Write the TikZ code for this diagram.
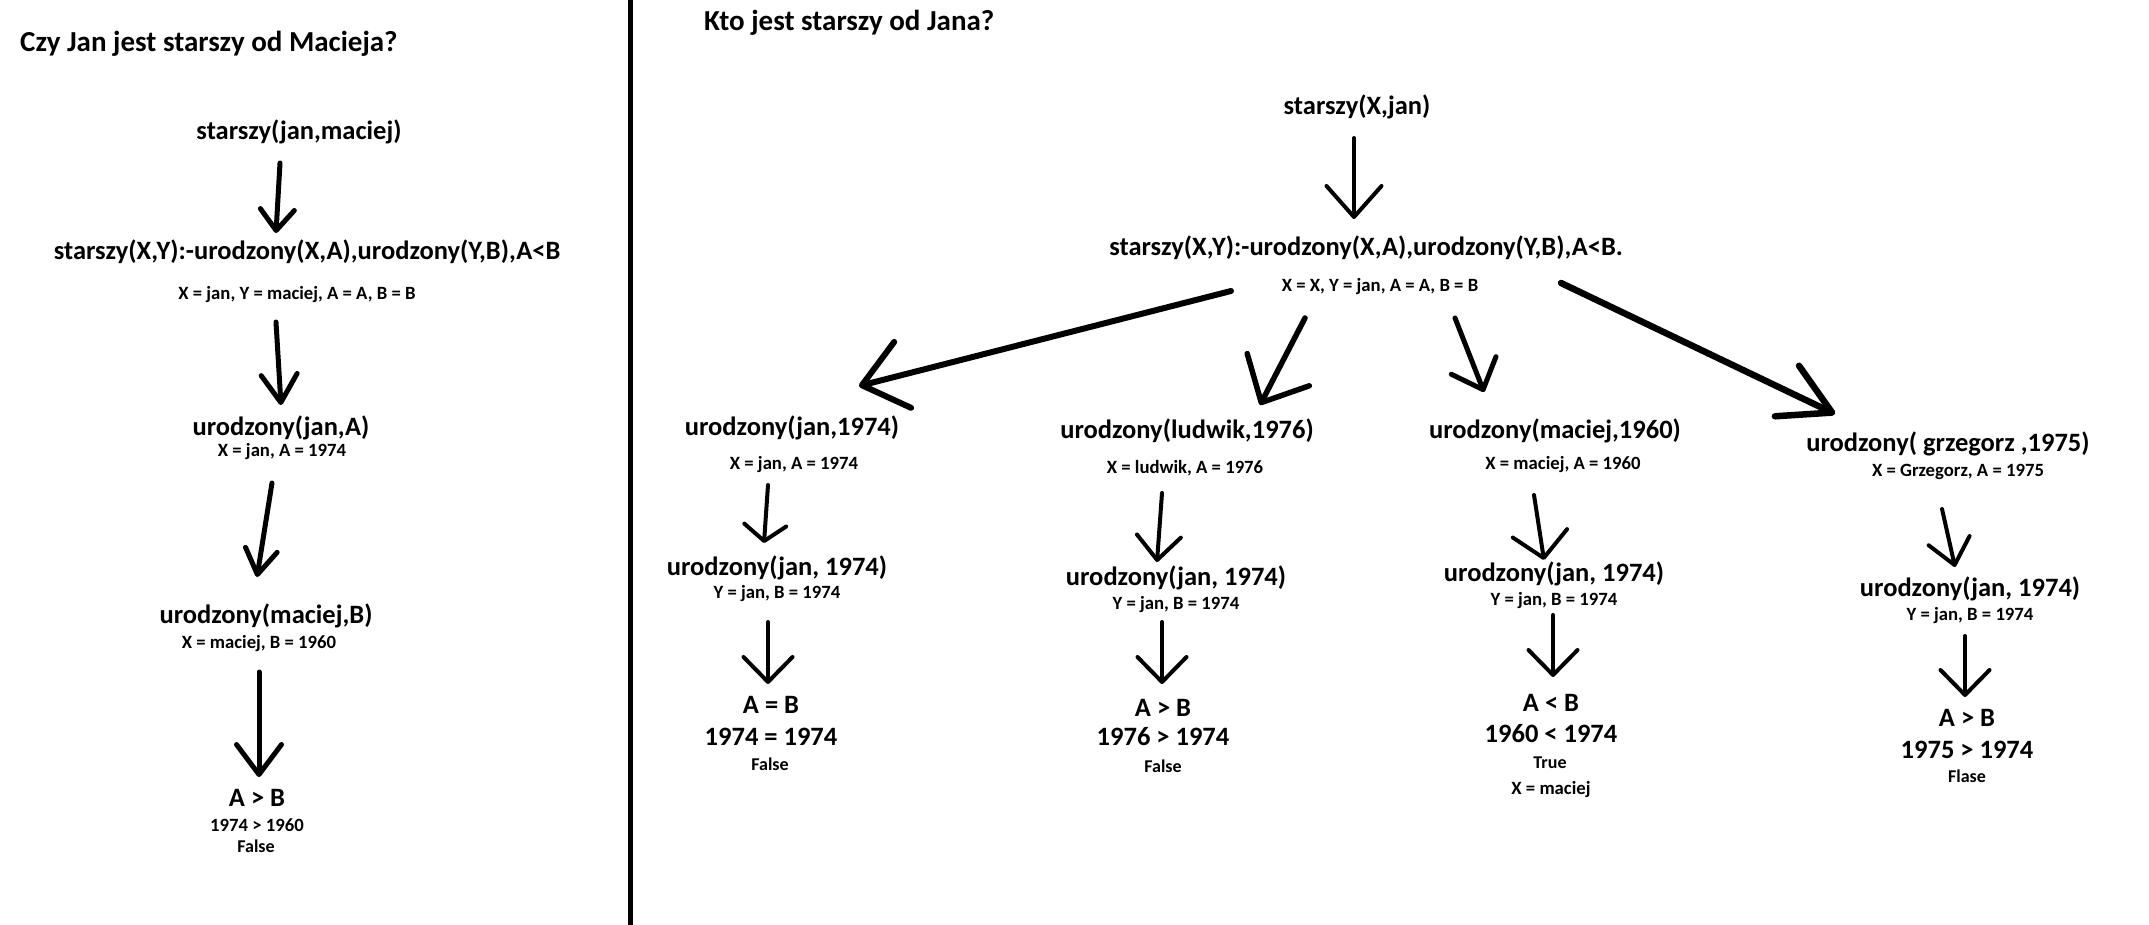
\documentclass[tikz,border=0pt]{standalone}
\usepackage{fontspec}
\setmainfont{Carlito}
\usetikzlibrary{arrows.meta}
\newcommand\fTitle{\fontsize{29}{34}\selectfont\bfseries}
\newcommand\fMain{\fontsize{26.5}{31}\selectfont\bfseries}
\newcommand\fSub{\fontsize{18.7}{22}\selectfont\bfseries}
\newcommand\fRes{\fontsize{18}{21}\selectfont\bfseries}
\tikzset{
  ttl/.style={anchor=base west, inner sep=0pt, font=\fTitle},
  mtxt/.style={anchor=base, inner sep=0pt, font=\fMain},
  stxt/.style={anchor=base, inner sep=0pt, font=\fSub},
  rtxt/.style={anchor=base, inner sep=0pt, font=\fRes},
  ln/.style={line width=#1, line cap=round, line join=round},
  hd/.style 2 args={-{Straight Barb[length=#1pt,width=#2pt,round]}}
}
\begin{document}
\begin{tikzpicture}[x=1pt,y=-1pt]
\useasboundingbox[fill=white] (0,0) rectangle (2149,925);
% divider
\draw[line width=5pt] (630.5,0) -- (630.5,925);

% ---------- left panel ----------
\node[ttl] (lt) at (20,52) {Czy Jan jest starszy od Macieja?};
\node[mtxt] (l1) at (299,140) {starszy(jan,maciej)};
\node[mtxt] (l2) at (307,260) {starszy(X,Y):-urodzony(X,A),urodzony(Y,B),A<B};
\node[stxt] (l2s) at (297,299) {X = jan, Y = maciej, A = A, B = B};
\node[mtxt] (l3) at (281,435) {urodzony(jan,A)};
\node[stxt] (l3s) at (282,456) {X = jan, A = 1974};
\node[mtxt] (l4) at (266,623) {urodzony(maciej,B)};
\node[stxt] (l4s) at (259,648) {X = maciej, B = 1960};
\node[mtxt] (l5) at (257,806) {A > B};
\node[stxt] (l5a) at (257,831) {1974 > 1960};
\node[rtxt] (l5b) at (256,852.5) {False};

\draw[ln=5pt, hd={21}{34}] ([shift={(-19,23)}]l1.base) -- ([shift={(-31,-27)}]l2.base);
\draw[ln=5pt, hd={28}{36}] ([shift={(-21,23)}]l2s.base) -- ([shift={(0,-30)}]l3.base);
\draw[ln=5pt, hd={25}{32}] ([shift={(-10,27)}]l3s.base) -- ([shift={(-9,-46)}]l4.base);
\draw[ln=5pt, hd={30}{45}] ([shift={(0,24)}]l4s.base) -- ([shift={(2,-29)}]l5.base);

% ---------- right panel ----------
\node[ttl] (rt) at (704,31) {Kto jest starszy od Jana?};
\node[mtxt] (r0) at (1357,115) {starszy(X,jan)};
\node[mtxt] (r1) at (1366,256) {starszy(X,Y):-urodzony(X,A),urodzony(Y,B),A<B.};
\node[stxt] (r1s) at (1380,291) {X = X, Y = jan, A = A, B = B};

% column 1
\node[mtxt] (c1a) at (792,435) {urodzony(jan,1974)};
\node[stxt] (c1as) at (794,469) {X = jan, A = 1974};
\node[mtxt] (c1b) at (777,575) {urodzony(jan, 1974)};
\node[stxt] (c1bs) at (777,598) {Y = jan, B = 1974};
\node[mtxt] (c1c) at (771,713) {A = B};
\node[mtxt] (c1d) at (771,745) {1974 = 1974};
\node[rtxt] (c1e) at (770,770.5) {False};

% column 2
\node[mtxt] (c2a) at (1187,438) {urodzony(ludwik,1976)};
\node[stxt] (c2as) at (1185,473) {X = ludwik, A = 1976};
\node[mtxt] (c2b) at (1176,585) {urodzony(jan, 1974)};
\node[stxt] (c2bs) at (1176,609) {Y = jan, B = 1974};
\node[mtxt] (c2c) at (1163,716) {A > B};
\node[mtxt] (c2d) at (1163,745) {1976 > 1974};
\node[rtxt] (c2e) at (1163,772.5) {False};

% column 3
\node[mtxt] (c3a) at (1555,438) {urodzony(maciej,1960)};
\node[stxt] (c3as) at (1563,469) {X = maciej, A = 1960};
\node[mtxt] (c3b) at (1554,581) {urodzony(jan, 1974)};
\node[stxt] (c3bs) at (1554,605) {Y = jan, B = 1974};
\node[mtxt] (c3c) at (1551,711) {A < B};
\node[mtxt] (c3d) at (1551,742) {1960 < 1974};
\node[rtxt] (c3e) at (1550,768.5) {True};
\node[stxt] (c3f) at (1551,794) {X = maciej};

% column 4
\node[mtxt] (c4a) at (1948,451) {urodzony( grzegorz ,1975)};
\node[stxt] (c4as) at (1958,476) {X = Grzegorz, A = 1975};
\node[mtxt] (c4b) at (1970,596) {urodzony(jan, 1974)};
\node[stxt] (c4bs) at (1970,620) {Y = jan, B = 1974};
\node[mtxt] (c4c) at (1967,726) {A > B};
\node[mtxt] (c4d) at (1967,758) {1975 > 1974};
\node[rtxt] (c4e) at (1967,782.5) {Flase};

% arrows right
\draw[ln=4pt, hd={31}{55}] ([shift={(-3,23)}]r0.base) -- ([shift={(-12,-37)}]r1.base);
\draw[ln=6pt, hd={42}{68}] ([shift={(-149,0)}]r1s.base) -- ([shift={(67,-49)}]c1a.base);
\draw[ln=5.5pt, hd={37}{70}] ([shift={(-75,27)}]r1s.base) -- ([shift={(73,-33)}]c2a.base);
\draw[ln=5pt, hd={26}{48}] ([shift={(75,27)}]r1s.base) -- ([shift={(-71,-46)}]c3a.base);
\draw[ln=6.5pt, hd={50}{56}] ([shift={(181,-8)}]r1s.base) -- ([shift={(-113,-37)}]c4a.base);

\draw[ln=4pt, hd={16}{42}] ([shift={(-26,16)}]c1as.base) -- ([shift={(-13,-32)}]c1b.base);
\draw[ln=4pt, hd={25}{49}] ([shift={(-9,24)}]c1bs.base) -- ([shift={(-3,-29)}]c1c.base);
\draw[ln=4pt, hd={24}{44}] ([shift={(-23,20)}]c2as.base) -- ([shift={(-19,-23)}]c2b.base);
\draw[ln=4pt, hd={25}{49}] ([shift={(-14,13)}]c2bs.base) -- ([shift={(-1,-32)}]c2c.base);
\draw[ln=4pt, hd={25}{55}] ([shift={(-29,26)}]c3as.base) -- ([shift={(-10,-21)}]c3b.base);
\draw[ln=4pt, hd={25}{49}] ([shift={(-1,10)}]c3bs.base) -- ([shift={(2,-34)}]c3c.base);
\draw[ln=4pt, hd={25}{42}] ([shift={(-16,33)}]c4as.base) -- ([shift={(-15,-29)}]c4b.base);
\draw[ln=4pt, hd={25}{49}] ([shift={(-5,16)}]c4bs.base) -- ([shift={(-2,-29)}]c4c.base);
\end{tikzpicture}
\end{document}
